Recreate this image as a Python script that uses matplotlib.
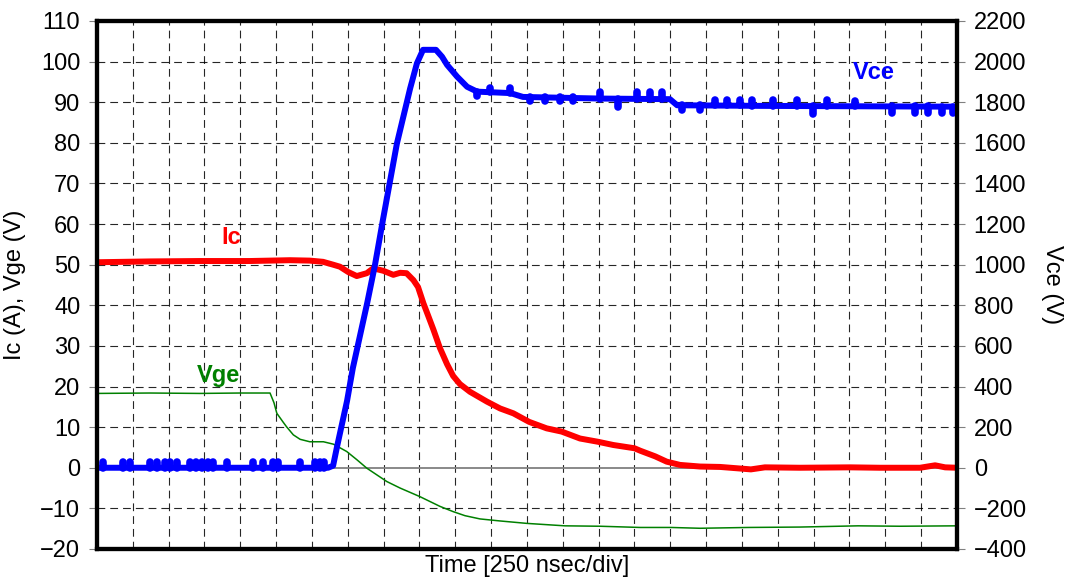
# coding=utf-8
import matplotlib.pyplot as plt

# 画图环境准备
plt.rcParams["font.family"] = ["Liberation Sans", "DejaVu Sans"]

# time axis in divisions (250 nsec/div)
ic_t = [0.00, 1.48, 2.87, 4.27, 5.39, 5.94, 6.31, 6.59, 6.78, 7.01, 7.25, 7.53,
        7.71, 7.99, 8.27, 8.46, 8.64, 8.83, 8.96, 9.11, 9.24, 9.39, 9.57, 9.77,
        9.94, 10.13, 10.41, 10.88, 11.25, 11.62, 12.06, 12.55, 12.97, 13.48,
        13.98, 14.41, 15.00, 15.16, 15.58, 15.90, 16.27, 16.83, 17.39, 18.25,
        18.64, 19.62, 21.02, 21.85, 22.97, 23.39, 23.67, 24.00]
ic_a = [50.6, 50.8, 50.9, 50.9, 51.1, 51.0, 50.7, 50.0, 49.5, 48.2, 47.2, 47.9,
        49.1, 48.5, 47.5, 48.0, 47.9, 46.2, 44.5, 40.5, 37.5, 34.0, 29.5, 25.5,
        22.6, 20.6, 18.7, 16.3, 14.6, 13.4, 11.3, 9.7, 8.9, 7.2,
        6.4, 5.6, 4.8, 4.2, 2.8, 1.5, 0.7, 0.3, 0.2, -0.4,
        0.1, 0.0, 0.1, 0.0, 0.0, 0.6, 0.1, 0.0]

vge_t = [0.00, 1.48, 2.87, 3.99, 4.83, 4.94, 5.02, 5.19, 5.29, 5.48, 5.67, 5.94,
         6.32, 6.60, 6.97, 7.25, 7.53, 8.09, 8.46, 9.01, 9.57, 9.94, 10.27,
         10.69, 11.25, 12.00, 13.06, 14.04, 15.16, 16.02, 16.83, 18.17, 19.62,
         21.24, 22.41, 24.00]
vge_v = [18.3, 18.4, 18.3, 18.4, 18.4, 16.0, 13.4, 11.3, 10.1, 8.1, 7.0, 6.4,
         6.4, 5.8, 4.0, 2.0, -0.1, -3.4, -5.0, -7.1, -9.5, -10.8, -11.8,
         -12.6, -13.1, -13.7, -14.3, -14.4, -14.7, -14.7, -14.9, -14.7, -14.6,
         -14.3, -14.4, -14.3]

vce_t = [0.00, 6.45, 6.59, 6.70, 6.98, 7.14, 7.54, 7.76, 7.98, 8.37, 8.74, 8.93,
         9.10, 9.46, 9.63, 9.77, 10.05, 10.33, 10.61, 11.53, 11.89, 14.04,
         15.99, 16.19, 18.50, 24.00]
vce_v = [0, 0, 10, 104, 330, 490, 810, 1000, 1220, 1596, 1868, 1992,
         2058, 2058, 2024, 1984, 1926, 1876, 1852, 1845, 1826, 1818,
         1815, 1785, 1782, 1778]

# noise spikes on Vce trace: position, start value, end value
spike_t = [0.17, 0.73, 0.92, 1.48, 1.67, 1.90, 2.04, 2.23, 2.60, 2.76, 2.93,
           3.10, 3.24, 3.63, 4.35, 4.63, 4.91, 5.05, 5.67, 6.08, 6.22, 6.34,
           10.60, 10.97, 11.53, 12.08, 12.50, 12.92, 13.28, 14.04, 14.54,
           15.07, 15.43, 15.77, 16.33, 16.83, 17.25, 17.58, 17.95, 18.28,
           18.87, 19.54, 19.98, 20.37, 21.16, 22.19, 22.83, 23.19, 23.58, 23.89]
spike_lo = [0] * 22 + [1852, 1852, 1845, 1826, 1826, 1826, 1826, 1818, 1818,
                       1818, 1818, 1818, 1785, 1785, 1784, 1784, 1784, 1783,
                       1782, 1782, 1781, 1781, 1780, 1780, 1779, 1779, 1778, 1778]
spike_hi = [30] * 22 + [1830, 1870, 1870, 1805, 1805, 1805, 1805, 1850, 1775,
                        1850, 1850, 1850, 1760, 1760, 1810, 1810, 1810, 1810,
                        1810, 1810, 1740, 1810, 1805, 1745, 1745, 1745, 1745, 1745]

left_ticks = list(range(-20, 111, 10))
right_ticks = list(range(-400, 2201, 200))


def main():
    fig = plt.figure(figsize=(10.69, 5.78), dpi=100)
    ax = fig.add_axes([0.0907, 0.0502, 0.8045, 0.9135])
    ax2 = ax.twinx()

    # grid: every division dashed, zero line solid gray
    for x in range(1, 24):
        ax.axvline(x, color="black", linewidth=0.8, dashes=(7, 4.5), alpha=0.85, zorder=0)
    for y in left_ticks[1:-1]:
        if y == 0:
            ax.axhline(0, color="#808080", linewidth=1.3, zorder=0)
        else:
            ax.axhline(y, color="black", linewidth=0.8, dashes=(7, 4.5), alpha=0.85, zorder=0)

    ax.plot(vge_t, vge_v, color="#008000", linewidth=1.1)
    ax.plot(ic_t, ic_a, color="#FF0000", linewidth=4.3, solid_capstyle="round",
            solid_joinstyle="round")

    ax2.plot(vce_t, vce_v, color="#0000FF", linewidth=4.3, solid_capstyle="round",
             solid_joinstyle="round")
    ax2.vlines(spike_t, spike_lo, spike_hi, color="#0000FF", linewidth=5.5,
               capstyle="round")

    ax.set_xlim(0, 24)
    ax.set_ylim(-20, 110)
    ax2.set_ylim(-400, 2200)
    ax.set_yticks(left_ticks)
    ax2.set_yticks(right_ticks)
    ax.set_xticks([])

    for a in (ax, ax2):
        for sp in a.spines.values():
            sp.set_linewidth(3)
            sp.set_color("black")
        a.tick_params(axis="y", direction="out", length=6, width=0.8, color="#808080",
                      labelsize=17, pad=6)

    ax.set_ylabel("Ic (A), Vge (V)", fontsize=17, labelpad=10)
    ax2.set_ylabel("Vce (V)", fontsize=17, rotation=270, labelpad=26)
    ax.set_xlabel("Time [250 nsec/div]", fontsize=17, labelpad=4)

    # trace labels
    ax.text(3.74, 56.6, "Ic", color="#FF0000", fontsize=17, fontweight="bold",
            ha="center", va="center")
    ax.text(3.38, 22.8, "Vge", color="#008000", fontsize=17, fontweight="bold",
            ha="center", va="center")
    ax.text(21.69, 97.2, "Vce", color="#0000FF", fontsize=17, fontweight="bold",
            ha="center", va="center")

    fig.savefig("out.png", dpi=100)


if __name__ == "__main__":
    main()
